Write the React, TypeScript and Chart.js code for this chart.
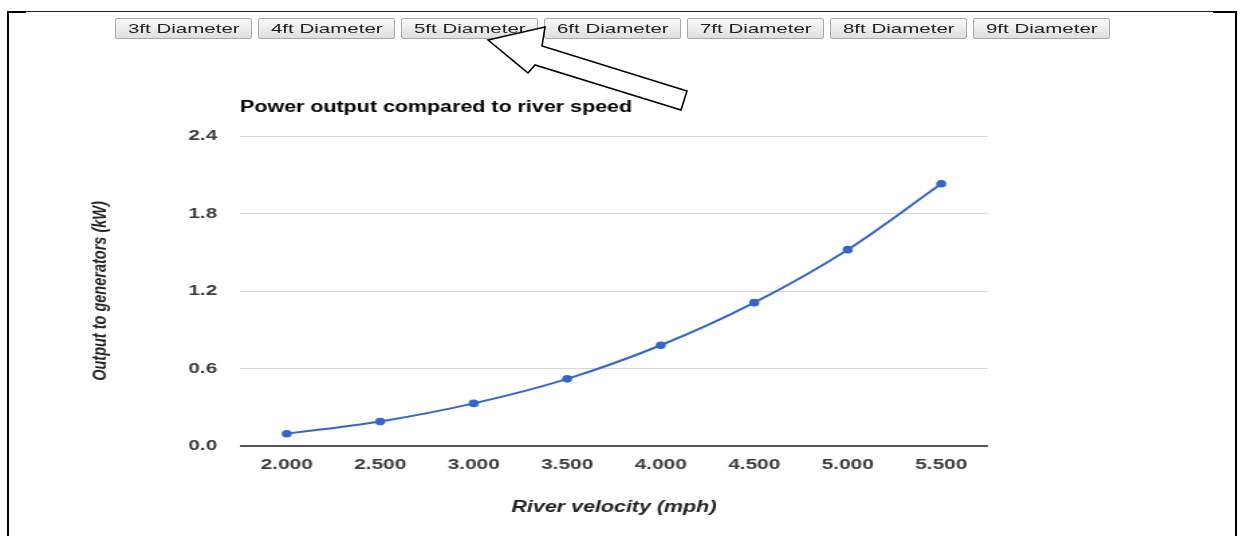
import { useEffect, useRef } from 'react';
import { Chart, registerables } from 'chart.js';

Chart.register(...registerables);

const categories = ['2.000', '2.500', '3.000', '3.500', '4.000', '4.500', '5.000', '5.500'];
const outputKW = [0.095, 0.19, 0.33, 0.52, 0.78, 1.11, 1.52, 2.03];
const yTicks = [0, 0.6, 1.2, 1.8, 2.4];
const buttonLabels = ['3ft Diameter', '4ft Diameter', '5ft Diameter', '6ft Diameter', '7ft Diameter', '8ft Diameter', '9ft Diameter'];
const chartTitle = 'Power output compared to river speed';
const xTitle = 'River velocity (mph)';
const yTitle = 'Output to generators (kW)';

const FONT = '"Liberation Sans", Arial, sans-serif';
const INNER_W = 928;
const H = 536;
const STRETCH = 1244 / INNER_W;

const titlePlugin = {
  id: 'leftTitle',
  afterDraw(chart: any) {
    const ctx = chart.ctx;
    ctx.save();
    ctx.font = `bold 16px ${FONT}`;
    ctx.fillStyle = '#000';
    ctx.textBaseline = 'alphabetic';
    ctx.textAlign = 'left';
    ctx.fillText(chartTitle, chart.chartArea.left, 112);
    ctx.restore();
  },
};

function PowerChart() {
  const ref = useRef<HTMLCanvasElement | null>(null);
  useEffect(() => {
    if (!ref.current) return;
    const chart = new Chart(ref.current, {
      type: 'line',
      data: {
        labels: categories,
        datasets: [
          {
            data: outputKW,
            borderColor: '#3366cc',
            backgroundColor: '#3366cc',
            borderWidth: 2,
            pointRadius: 3.8,
            pointBorderWidth: 0,
            pointBackgroundColor: '#3366cc',
            cubicInterpolationMode: 'monotone',
            fill: false,
          },
        ],
      },
      options: {
        responsive: false,
        animation: false,
        layout: { padding: { top: 136, right: 191, bottom: 0, left: 0 } },
        plugins: { legend: { display: false }, tooltip: { enabled: false }, title: { display: false } },
        scales: {
          x: {
            type: 'category',
            offset: true,
            grid: { display: false, drawTicks: false },
            border: { display: false },
            ticks: {
              font: { family: FONT, size: 15.5, weight: 'bold' },
              color: '#3d3d3d',
              padding: 9,
              maxRotation: 0,
              autoSkip: false,
            },
            title: {
              display: true,
              text: xTitle,
              color: '#222',
              font: { family: FONT, size: 16, weight: 'bold', style: 'italic' },
              padding: { top: 0, bottom: 19 },
            },
            afterFit: (scale: any) => {
              scale.height = 90;
            },
          },
          y: {
            min: 0,
            max: 2.4,
            grid: {
              drawTicks: false,
              color: (c: any) => (c.tick && c.tick.value === 0 ? '#555' : '#d6d6d6'),
              lineWidth: (c: any) => (c.tick && c.tick.value === 0 ? 2 : 1),
            },
            border: { display: false },
            afterBuildTicks: (scale: any) => {
              scale.ticks = yTicks.map((v) => ({ value: v }));
            },
            ticks: {
              font: { family: FONT, size: 15.5, weight: 'bold' },
              color: '#3d3d3d',
              padding: 17,
              callback: (v: any) => Number(v).toFixed(1),
            },
            title: {
              display: true,
              text: yTitle,
              color: '#222',
              font: { family: FONT, size: 14.5, weight: 'bold', style: 'italic' },
              padding: { top: 66.5, bottom: 0 },
            },
            afterFit: (scale: any) => {
              scale.width = 179;
            },
          },
        },
      } as any,
      plugins: [titlePlugin],
    });
    return () => chart.destroy();
  }, []);
  return (
    <div
      style={{
        position: 'absolute',
        left: 0,
        top: 0,
        width: INNER_W,
        height: H,
        transform: `scaleX(${STRETCH})`,
        transformOrigin: '0 0',
      }}
    >
      <canvas ref={ref} width={INNER_W} height={H} style={{ width: INNER_W, height: H, display: 'block' }} />
    </div>
  );
}

const line = (left: number, top: number, width: number, height: number, color = '#000') => (
  <div style={{ position: 'absolute', left, top, width, height, background: color }} />
);

export default function App() {
  return (
    <div
      style={{
        position: 'fixed',
        left: 0,
        top: 0,
        width: 1244,
        height: H,
        background: '#fff',
        overflow: 'hidden',
        fontFamily: FONT,
      }}
    >
      <PowerChart />
      {line(7, 11, 2, 525)}
      {line(7, 11, 19, 2)}
      {line(26, 11, 1187, 1, '#222')}
      {line(1213, 11, 24, 2)}
      {line(1235, 11, 2, 525)}
      {buttonLabels.map((label, i) => (
        <button
          key={label}
          style={{
            position: 'absolute',
            left: 115 + i * 143,
            top: 18,
            width: 137,
            height: 21,
            boxSizing: 'border-box',
            border: '1px solid #a8a8a8',
            borderRadius: 2,
            background: 'linear-gradient(#fbfbfb, #dedede)',
            padding: 0,
            margin: 0,
            font: `13.5px ${FONT}`,
            color: '#222',
            lineHeight: '19px',
            overflow: 'visible',
            whiteSpace: 'nowrap',
          }}
        >
          <span style={{ display: 'inline-block', transform: 'scaleX(1.52)' }}>{label}</span>
        </button>
      ))}
      <svg
        width={1244}
        height={H}
        style={{ position: 'absolute', left: 0, top: 0, pointerEvents: 'none' }}
      >
        <polygon
          points="488,40 545,27 542,46 687,91 681,110 535,65 528,73"
          fill="#fff"
          stroke="#000"
          strokeWidth={1.6}
          strokeLinejoin="miter"
        />
      </svg>
    </div>
  );
}
